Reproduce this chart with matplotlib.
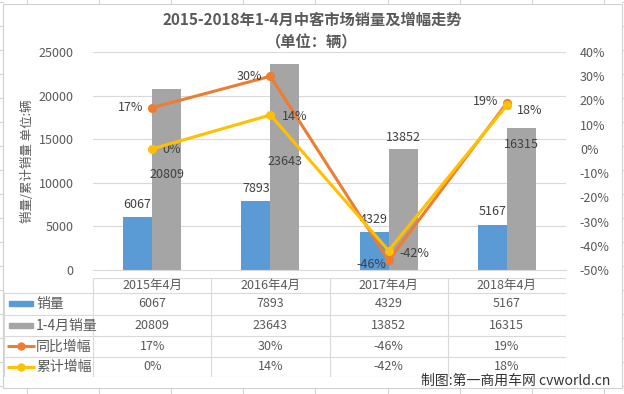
#!/usr/bin/python3

import matplotlib
matplotlib.use("Agg")
import matplotlib.pyplot as plt
from matplotlib.lines import Line2D
from matplotlib.patches import Rectangle

plt.rcParams['font.family'] = ['Noto Sans CJK SC', 'DejaVu Sans']

# data
categories = ['2015年4月', '2016年4月', '2017年4月', '2018年4月']
sales = [6067, 7893, 4329, 5167]
sales_cum = [20809, 23643, 13852, 16315]
yoy = [0.17, 0.30, -0.46, 0.19]
yoy_cum = [0.00, 0.14, -0.42, 0.18]
series_names = ['销量', '1-4月销量', '同比增幅', '累计增幅']

BLUE = '#5B9BD5'
GRAY = '#A5A5A5'
ORANGE = '#ED7D31'
YELLOW = '#FFC000'
TXT = '#595959'
GRID = '#D9D9D9'

W, H = 624, 394
fig = plt.figure(figsize=(W/100, H/100), dpi=100)

def fx(px):
    return px / W

def fy(py):
    return 1 - py / H

# spreadsheet background lines around the chart
for x in [27, 99, 171, 243, 315, 388, 460, 532, 604]:
    fig.add_artist(Line2D([fx(x), fx(x)], [fy(0), fy(4)], color='#D4D4D4', lw=0.8))
    fig.add_artist(Line2D([fx(x), fx(x)], [fy(388), fy(394)], color='#D4D4D4', lw=0.8))
for y in range(2, 394, 24):
    fig.add_artist(Line2D([fx(0), fx(3)], [fy(y), fy(y)], color='#D4D4D4', lw=0.8))
    fig.add_artist(Line2D([fx(622), fx(624)], [fy(y), fy(y)], color='#D4D4D4', lw=0.8))
fig.add_artist(Rectangle((fx(3), fy(388)), fx(619), (384)/H, fill=False,
                         edgecolor='#D0D0D0', lw=0.8))

# main plot area
left, right, top, bottom = 93, 566, 52, 270
ax = fig.add_axes([fx(left), fy(bottom), fx(right - left), (bottom - top)/H])
ax2 = ax.twinx()

n = len(categories)
xs = list(range(n))
bw = 0.245
ax.bar([x - bw/2 for x in xs], sales, width=bw, color=BLUE, zorder=2)
ax.bar([x + bw/2 for x in xs], sales_cum, width=bw, color=GRAY, zorder=2)
ax.set_xlim(-0.5, n - 0.5)
ax.set_ylim(0, 25000)
ax.set_yticks(range(0, 25001, 5000))
ax.yaxis.grid(True, color=GRID, lw=0.8)
ax.set_axisbelow(True)
ax.set_xticks([])
for s in ['top', 'left', 'right']:
    ax.spines[s].set_visible(False)
ax.spines['bottom'].set_color(GRID)
ax.tick_params(axis='y', length=0, labelsize=9, labelcolor=TXT, pad=14)
ax.set_ylabel('销量/累计销量 单位:辆', fontsize=9, color=TXT, labelpad=3)

ax2.plot(xs, yoy, color=ORANGE, lw=2.2, marker='o', ms=5.5, zorder=3)
ax2.plot(xs, yoy_cum, color=YELLOW, lw=2.2, marker='o', ms=5.5, zorder=4)
ax2.set_ylim(-0.5, 0.4)
ax2.set_yticks([i/10 for i in range(-5, 5)])
ax2.set_yticklabels(['%d%%' % round(v*100) for v in ax2.get_yticks()])
ax2.tick_params(axis='y', length=0, labelsize=9, labelcolor=TXT, pad=10)
for s in ['top', 'left', 'right', 'bottom']:
    ax2.spines[s].set_visible(False)

# data labels
lab = dict(fontsize=9, color='#404040', textcoords='offset pixels', va='center')
for x, v in zip(xs, sales):
    ax.annotate(str(v), (x - bw/2, v), xytext=(0, 13), ha='center', **lab)
gray_off = [-86, -98, 12, -17]
for x, v, o in zip(xs, sales_cum, gray_off):
    ax.annotate(str(v), (x + bw/2, v), xytext=(0, o), ha='center', **lab)
yoy_off = [(-9, 0), (-8, 0), (-2, -4), (-9, 1)]
for x, v, o in zip(xs, yoy, yoy_off):
    ax2.annotate('%d%%' % round(v*100), (x, v), xytext=o, ha='right', **lab)
cum_off = [(10, -1), (12, -2), (11, -3), (10, -5)]
for x, v, o in zip(xs, yoy_cum, cum_off):
    ax2.annotate('%d%%' % round(v*100), (x, v), xytext=o, ha='left', **lab)

# data table under the plot
tleft, ttop, tbot = 4, 278, 377
tax = fig.add_axes([fx(tleft), fy(tbot), fx(right - tleft), (tbot - ttop)/H])
tax.set_xlim(tleft, right)
tax.set_ylim(tbot, ttop)
tax.axis('off')
colw = (right - left) / n
edges = [left + i*colw for i in range(n + 1)]
rows = [278, 293, 315, 336, 357, 377]
lk = dict(color=GRID, lw=0.8)
tax.plot([left, right], [rows[0], rows[0]], **lk)
for r in rows[1:]:
    tax.plot([tleft, right], [r, r], **lk)
for e in edges:
    tax.plot([e, e], [rows[0], rows[-1]], **lk)
tax.plot([tleft, tleft], [rows[1], rows[-1]], **lk)

for i, c in enumerate(categories):
    cx = (edges[i] + edges[i + 1]) / 2
    tax.text(cx, (rows[0] + rows[1]) / 2, c, ha='center', va='center', fontsize=9, color=TXT)
    vals = [str(sales[i]), str(sales_cum[i]),
            '%d%%' % round(yoy[i]*100), '%d%%' % round(yoy_cum[i]*100)]
    for j, v in enumerate(vals):
        tax.text(cx, (rows[j + 1] + rows[j + 2]) / 2, v, ha='center', va='center',
                 fontsize=9, color=TXT)

for j, name in enumerate(series_names):
    cy = (rows[j + 1] + rows[j + 2]) / 2
    if j < 2:
        tax.add_patch(Rectangle((9, cy - 2.5), 24, 5, color=[BLUE, GRAY][j]))
    else:
        col = [ORANGE, YELLOW][j - 2]
        tax.plot([7, 35], [cy, cy], color=col, lw=2.2, solid_capstyle='butt')
        tax.plot([21], [cy], 'o', color=col, ms=5)
    tax.text(36, cy, name, ha='left', va='center', fontsize=10, color=TXT)

# titles and credit
fig.text(0.5, fy(20), '2015-2018年1-4月中客市场销量及增幅走势', ha='center', va='center',
         fontsize=11, fontweight='bold', color=TXT)
fig.text(0.5, fy(42), '（单位：辆）', ha='center', va='center',
         fontsize=11, fontweight='bold', color=TXT)
fig.text(fx(610), fy(381), '制图:第一商用车网 cvworld.cn', ha='right', va='center',
         fontsize=10, color='#333333')

fig.savefig('out.png', dpi=100)
